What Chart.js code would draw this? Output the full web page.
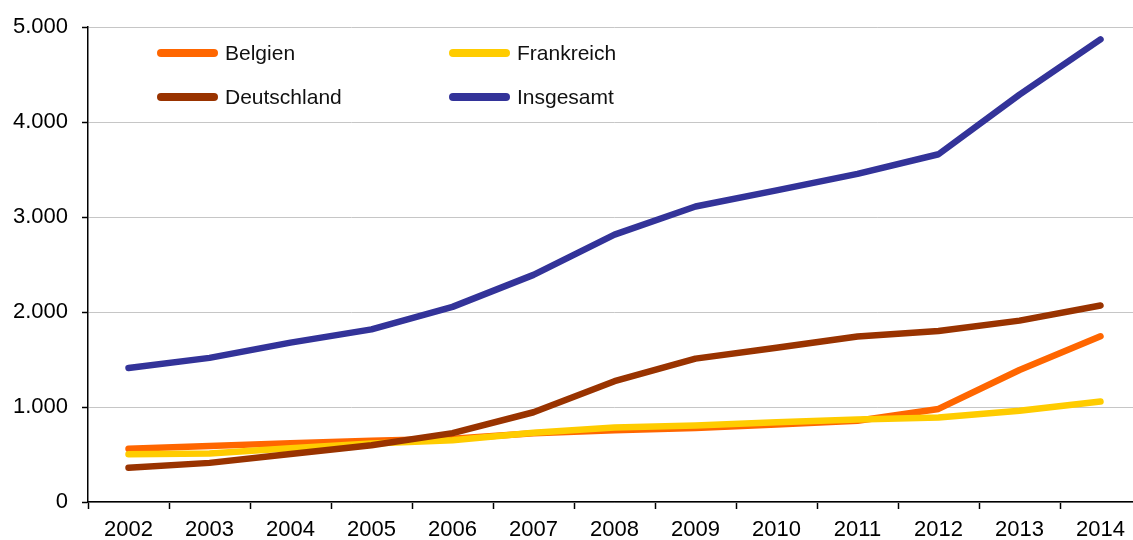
<!DOCTYPE html>
<html>
<head>
<meta charset="utf-8">
<script src="https://cdn.jsdelivr.net/npm/chart.js@4"></script>
<style>
  html, body { margin: 0; padding: 0; background: #fff; overflow: hidden; }
  #wrap { width: 1141px; height: 540px; }
</style>
</head>
<body>
<div id="wrap"><canvas id="chart"></canvas></div>
<script>
// Jahre und Werte
const jahre = ['2002', '2003', '2004', '2005', '2006', '2007', '2008', '2009', '2010', '2011', '2012', '2013', '2014'];
const belgien = [560, 590, 620, 645, 665, 725, 755, 780, 815, 855, 980, 1390, 1745];
const frankreich = [502, 510, 565, 615, 650, 730, 785, 805, 840, 870, 890, 962, 1058];
const deutschland = [360, 412, 505, 598, 725, 945, 1272, 1510, 1625, 1742, 1800, 1910, 2070];
const insgesamt = [1412, 1518, 1678, 1818, 2055, 2392, 2815, 3112, 3282, 3455, 3662, 4290, 4872];
const yTicks = [0, 1000, 2000, 3000, 4000, 5000];

const FONT = "'Liberation Sans', Arial, sans-serif";

function fmt(v) {
    return String(v).replace(/\B(?=(\d{3})+(?!\d))/g, '.');
}

// Legende innerhalb der Zeichenfläche, zwei Spalten
const innerLegend = {
    id: 'innerLegend',
    afterDraw(chart) {
        const ctx = chart.ctx;
        ctx.save();
        ctx.font = '21px ' + FONT;
        ctx.textBaseline = 'middle';
        chart.data.datasets.forEach((ds, i) => {
            const col = i % 2, row = Math.floor(i / 2);
            const x = 161 + col * 292;
            const y = 53 + row * 44;
            ctx.strokeStyle = ds.borderColor;
            ctx.lineWidth = 8;
            ctx.lineCap = 'round';
            ctx.beginPath();
            ctx.moveTo(x, y);
            ctx.lineTo(x + 53, y);
            ctx.stroke();
            ctx.fillStyle = '#111';
            ctx.fillText(ds.label, x + 64, y + 1);
        });
        ctx.restore();
    }
};

function serie(label, data, color, order) {
    return {
        label, data, order,
        borderColor: color, backgroundColor: color,
        borderWidth: 6.5, pointRadius: 0, tension: 0,
        borderCapStyle: 'round', borderJoinStyle: 'round'
    };
}

new Chart(document.getElementById('chart'), {
    type: 'line',
    data: {
        labels: jahre,
        datasets: [
            serie('Belgien', belgien, '#FF6600', 4),
            serie('Frankreich', frankreich, '#FFCC00', 3),
            serie('Deutschland', deutschland, '#993300', 2),
            serie('Insgesamt', insgesamt, '#333399', 1)
        ]
    },
    options: {
        responsive: true, maintainAspectRatio: false, animation: false,
        layout: { padding: { top: 23, left: 0, right: 0, bottom: 0 } },
        plugins: { legend: { display: false }, tooltip: { enabled: false } },
        scales: {
            x: {
                offset: true,
                grid: { offset: true, drawOnChartArea: false, drawTicks: true, tickLength: 7, tickColor: '#000', tickWidth: 1.5 },
                border: { color: '#000', width: 1.5 },
                ticks: { color: '#000', font: { family: FONT, size: 22 }, padding: 8, maxRotation: 0, autoSkip: false },
                afterFit(scale) { scale.height = 38; }
            },
            y: {
                min: 0, max: 5000,
                afterBuildTicks(scale) { scale.ticks = yTicks.map(v => ({ value: v })); },
                grid: { color: '#c6c6c6', lineWidth: 1, tickLength: 6, tickColor: '#000', tickWidth: 1.5 },
                border: { color: '#000', width: 1.5 },
                ticks: { color: '#000', font: { family: FONT, size: 22 }, padding: 14, callback: v => fmt(v) },
                afterFit(scale) { scale.width = 88; }
            }
        }
    },
    plugins: [innerLegend]
});
</script>
</body>
</html>
